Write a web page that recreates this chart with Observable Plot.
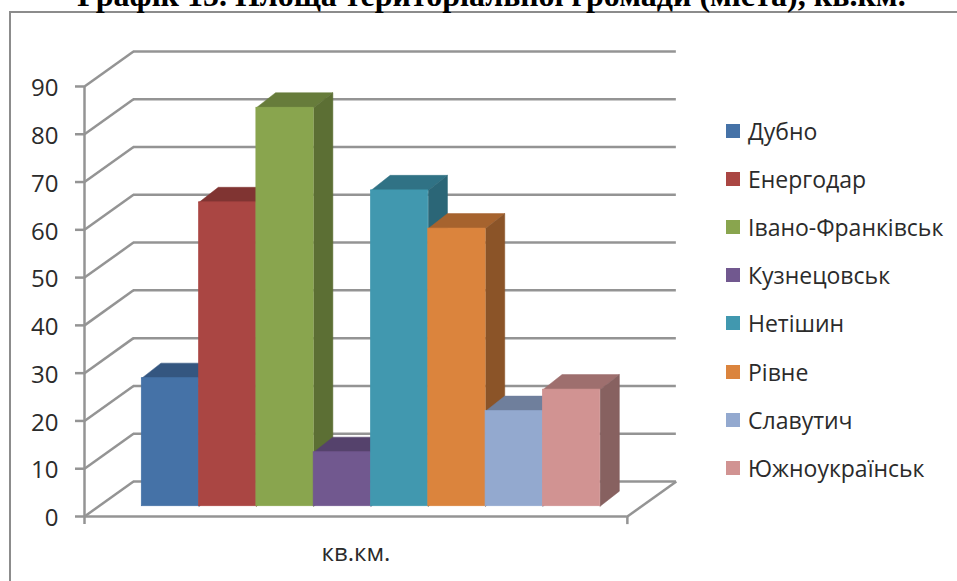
<!DOCTYPE html>
<html><head><meta charset="utf-8">
<script src="https://cdn.jsdelivr.net/npm/d3@7"></script>
<script src="https://cdn.jsdelivr.net/npm/@observablehq/plot@0.6"></script>
<style>
html,body{margin:0;padding:0;background:#fff;overflow:hidden}
#wrap{position:relative;width:957px;height:581px;overflow:hidden}
#title{position:absolute;left:0;top:-23px;width:957px;text-align:center;font:bold 32px "Liberation Serif",serif;color:#000;white-space:nowrap;padding-left:26px;box-sizing:border-box}
#frame{position:absolute;left:9px;top:11px;width:960px;height:600px;border:2px solid #8c8c8c;box-sizing:border-box}
#chart{position:absolute;left:0;top:0}
#legend{position:absolute;left:726px;top:107px;font:23px "Open Sans",sans-serif;color:#2b2b2b}
.li{display:flex;align-items:center;height:48.1px;white-space:nowrap}
.sw{width:14px;height:14px;margin-right:8px;flex:none}
</style></head><body>
<div id="wrap"><div id="frame"></div><div id="chart"></div><div id="title">Графік 15. Площа територіальної громади (міста), кв.км.</div><div id="legend"></div></div>
<script>
const cities = ["Дубно","Енергодар","Івано-Франківськ","Кузнецовськ","Нетішин","Рівне","Славутич","Южноукраїнськ"];
const areas = [26.8,63.6,83.4,11.3,66.1,58.1,19.9,24.4];
const frontColors = ["#4572a7","#aa4643","#89a54e","#71588f","#4198af","#db843d","#93a9cf","#d19392"];
const topColors = ["#345680","#803432","#677c3b","#55426c","#307285","#a6632e","#6f7f9c","#9e6f6e"];
const sideColors = ["#2f4d73","#732f2d","#5c6f34","#4c3b61","#2b6677","#8b5428","#637289","#876160"];
const yTicks = [0,10,20,30,40,50,60,70,80,90];

const wallDx = 0.855, wallDy = 7.33;   // depth of the chart box, in scale units
const barDx = 0.335, barDy = 3.15;     // depth of a bar
const floorY = 2.15, axisEnd = 9.475;  // bars' base above the axis, end of the front axis

const grid = yTicks.map(v => ({v}));
const face = pts => pts.map(([x,y]) => ({x,y}));
const barMarks = areas.flatMap((v,i) => {
  const x0 = 1 + i, x1 = 2 + i, y0 = floorY, y1 = floorY + v;
  const top = face([[x0,y1],[x1,y1],[x1+barDx,y1+barDy],[x0+barDx,y1+barDy],[x0,y1]]);
  const side = face([[x1,y0],[x1+barDx,y0+barDy],[x1+barDx,y1+barDy],[x1,y1],[x1,y0]]);
  return [
    Plot.line(top,{x:"x",y:"y",fill:topColors[i],stroke:topColors[i],strokeWidth:0.5}),
    Plot.line(side,{x:"x",y:"y",fill:sideColors[i],stroke:sideColors[i],strokeWidth:0.5}),
    Plot.rect([{x0,x1,y0,y1}],{x1:"x0",x2:"x1",y1:"y0",y2:"y1",fill:frontColors[i],stroke:frontColors[i],strokeWidth:0.7})
  ];
});
const gray = "#949494";
const plot = Plot.plot({
  width:957,height:581,
  marginLeft:84,marginRight:280,marginTop:50,marginBottom:65,
  x:{type:"linear",domain:[0,10.35],axis:null},
  y:{type:"linear",domain:[0,97.53],axis:null},
  style:{background:"transparent",overflow:"visible"},
  marks:[
    Plot.ruleY(grid,{y:d=>d.v+wallDy,x1:wallDx,x2:axisEnd+wallDx,stroke:gray,strokeWidth:2.5}),
    Plot.link(grid,{x1:0,y1:"v",x2:wallDx,y2:d=>d.v+wallDy,stroke:gray,strokeWidth:2.5}),
    Plot.link([0],{x1:axisEnd,y1:0,x2:axisEnd+wallDx,y2:wallDy,stroke:gray,strokeWidth:2.5}),
    Plot.ruleY([0],{x1:0,x2:axisEnd,stroke:gray,strokeWidth:2.5}),
    Plot.ruleX([0],{y1:-1.7,y2:90,stroke:gray,strokeWidth:2.5}),
    Plot.ruleX([axisEnd],{y1:-1.7,y2:0,stroke:gray,strokeWidth:2.5}),
    Plot.axisY({ticks:yTicks,anchor:"left",tickSize:9,tickFormat:()=>"",label:null,stroke:gray,strokeWidth:2.5}),
    Plot.axisY({ticks:yTicks,anchor:"left",tickSize:0,tickPadding:26,dy:2,label:null,fontSize:24,fill:"#2b2b2b",fontFamily:"Open Sans"}),
    Plot.text(["кв.км."],{x:axisEnd/2,y:-7.8,fontSize:24,fill:"#2b2b2b",fontFamily:"Open Sans"}),
    ...barMarks
  ]
});
document.getElementById("chart").append(plot);
const legend = d3.select("#legend");
cities.forEach((c,i)=>{
  const r = legend.append("div").attr("class","li");
  r.append("span").attr("class","sw").style("background",frontColors[i]);
  r.append("span").text(c);
});
</script>
</body></html>
